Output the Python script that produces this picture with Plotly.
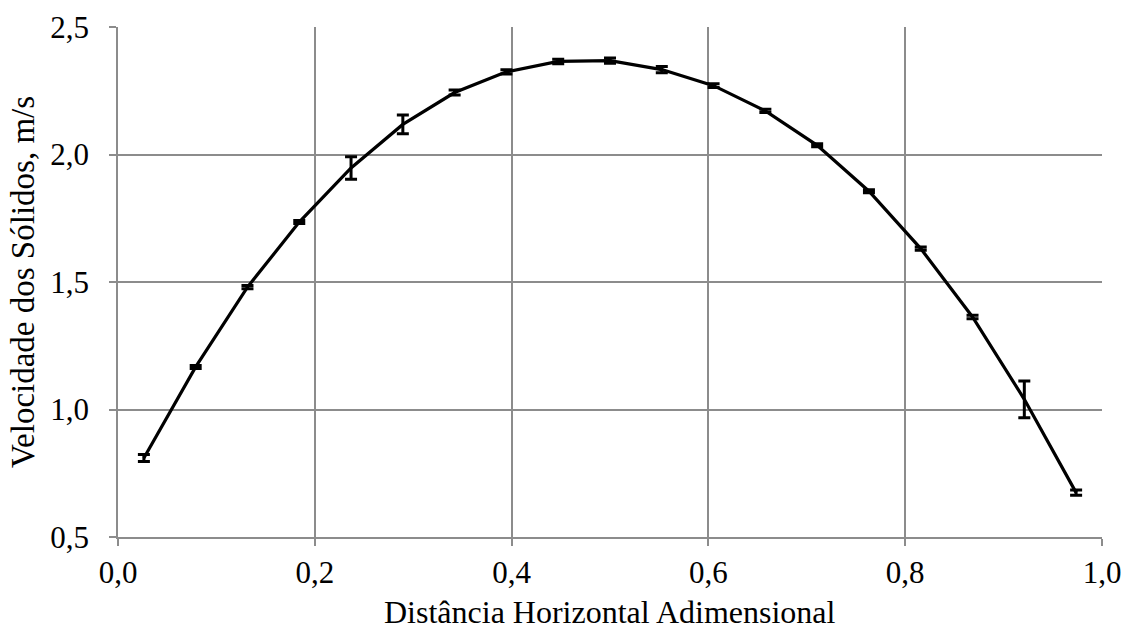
import plotly.graph_objects as go

x_vals = [(i + 0.5) / 19 for i in range(19)]
y_vals = [0.810, 1.167, 1.480, 1.735, 1.947, 2.118, 2.243, 2.324, 2.365, 2.368,
          2.333, 2.270, 2.171, 2.036, 1.856, 1.631, 1.363, 1.040, 0.674]
y_err = [0.014, 0.006, 0.006, 0.006, 0.044, 0.037, 0.010, 0.008, 0.009, 0.010,
         0.012, 0.007, 0.006, 0.006, 0.006, 0.006, 0.007, 0.072, 0.010]
x_title = "Distância Horizontal Adimensional"
y_title = "Velocidade dos Sólidos, m/s"

fig = go.Figure()
fig.add_trace(go.Scatter(
    x=x_vals, y=y_vals, mode="lines",
    line=dict(color="black", width=3.2),
    error_y=dict(type="data", array=y_err, visible=True, color="black",
                 thickness=3, width=6),
    showlegend=False,
))

font = "Liberation Serif"
fs = 31
fig.update_layout(
    width=1132, height=633,
    margin=dict(l=118, r=30, t=27, b=96),
    paper_bgcolor="white", plot_bgcolor="white",
    separators=",.",
    font=dict(family=font, size=fs, color="black"),
    xaxis=dict(
        range=[0, 1], dtick=0.2, tickformat=".1f",
        showgrid=True, gridcolor="#8c8c8c", gridwidth=1.5,
        showline=True, linecolor="#8c8c8c", linewidth=1.5,
        ticks="outside", ticklen=7, tickcolor="#8c8c8c", tickwidth=1.5,
        zeroline=False, mirror=False, automargin=False,
        ticklabelstandoff=0,
        tickfont=dict(family=font, size=fs, color="black"),
    ),
    yaxis=dict(
        range=[0.5, 2.5], dtick=0.5, tickformat=".1f",
        showgrid=True, gridcolor="#8c8c8c", gridwidth=1.5,
        showline=True, linecolor="#8c8c8c", linewidth=1.5,
        ticks="outside", ticklen=7, tickcolor="#8c8c8c", tickwidth=1.5,
        zeroline=False, automargin=False,
        ticklabelstandoff=14,
        title=dict(text=y_title, font=dict(family=font, size=33, color="black"), standoff=6),
        tickfont=dict(family=font, size=fs, color="black"),
    ),
    annotations=[dict(
        text=x_title, xref="paper", yref="paper", x=0.5, y=-0.184,
        xanchor="center", yanchor="bottom", showarrow=False, borderpad=0,
        font=dict(family=font, size=32, color="black"),
    )],
)

fig.write_html("out.html")
